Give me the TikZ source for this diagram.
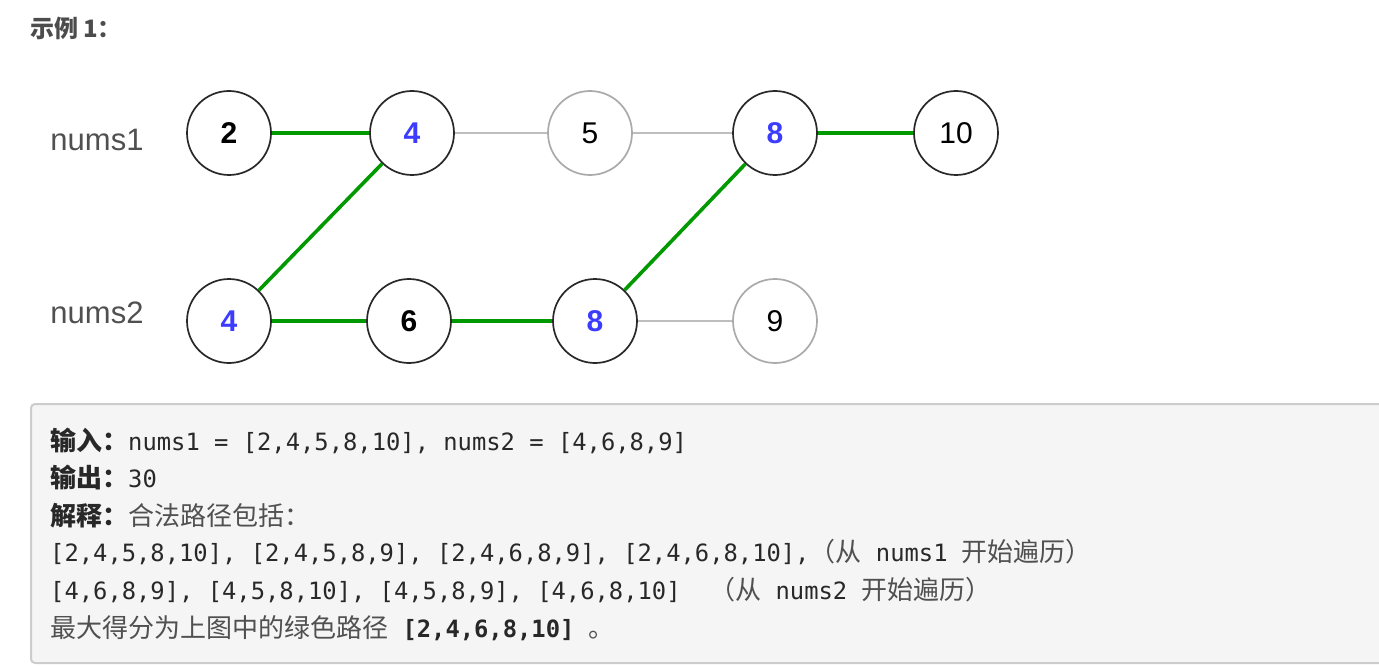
\documentclass[tikz,border=0pt]{standalone}
\usepackage{fontspec}
\setmainfont{Liberation Sans}
\newfontfamily\cjk{Noto Sans CJK SC}
\newfontfamily\mono{DejaVu Sans Mono}
\definecolor{pathgreen}{RGB}{0,153,0}
\definecolor{numblue}{RGB}{60,60,255}
\definecolor{lightline}{RGB}{190,190,190}
\definecolor{ringdark}{RGB}{40,40,40}
\definecolor{ringlight}{RGB}{170,170,170}
\definecolor{boxfill}{RGB}{245,245,245}
\definecolor{boxline}{RGB}{204,204,204}
\definecolor{txtdark}{RGB}{40,40,40}
\definecolor{txtmid}{RGB}{80,80,80}
\definecolor{titlecol}{RGB}{76,76,76}
\newcommand\zh[1]{{\fontsize{26}{30}\selectfont\cjk\color{txtmid}#1}}
\newcommand\zhb[1]{{\fontsize{26}{30}\selectfont\cjk\bfseries\color{txtdark}#1}}
\newcommand\mt[1]{{\fontsize{23.8}{30}\selectfont\mono\color{txtdark}#1}}
\newcommand\mtb[1]{{\fontsize{23.8}{30}\selectfont\mono\bfseries\color{txtdark}#1}}
\newcommand\msp{{\fontsize{23.8}{30}\selectfont\mono\ }}
\tikzset{
  num/.style={circle, draw=ringdark, fill=white, line width=1.7pt, minimum size=84pt, inner sep=0pt, font=\fontsize{30}{30}\selectfont},
  numlight/.style={num, draw=ringlight},
  hl/.style={font=\fontsize{30}{30}\selectfont\bfseries},
  hlblue/.style={hl, text=numblue},
  greenedge/.style={draw=pathgreen, line width=3.6pt},
  grayedge/.style={draw=lightline, line width=2pt},
  rowlabel/.style={font=\fontsize{31}{31}\selectfont, text=txtmid, anchor=center},
  txtline/.style={anchor=base west, inner sep=0pt}
}
\begin{document}
\begin{tikzpicture}[x=1pt,y=-1pt]
\useasboundingbox (0,0) rectangle (1379,666);
% title
\node[anchor=west, inner sep=0pt, text=titlecol, font=\fontsize{24}{24}\selectfont\cjk\bfseries] (title) at (30,28) {示例\hspace{5pt}1：};
% row labels
\node[rowlabel] (l1) at (97,140) {nums1};
\node[rowlabel] (l2) at (97,313) {nums2};
% nodes
\node[num, hl] (a2) at (229,133) {2};
\node[num, hlblue] (a4) at (412,133) {4};
\node[numlight] (a5) at (590,133) {5};
\node[num, hlblue] (a8) at (775,133) {8};
\node[num] (a10) at (956,133) {10};
\node[num, hlblue] (b4) at (229,321) {4};
\node[num, hl] (b6) at (409,321) {6};
\node[num, hlblue] (b8) at (595,321) {8};
\node[numlight] (b9) at (775,321) {9};
% edges
\draw[greenedge] (a2) -- (a4);
\draw[greenedge] (a4) -- (b4);
\draw[greenedge] (b4) -- (b6);
\draw[greenedge] (b6) -- (b8);
\draw[greenedge] (b8) -- (a8);
\draw[greenedge] (a8) -- (a10);
\draw[grayedge] (a4) -- (a5);
\draw[grayedge] (a5) -- (a8);
\draw[grayedge] (b8) -- (b9);
% box
\draw[draw=boxline, fill=boxfill, line width=2pt, rounded corners=4pt] (31,404) rectangle (1395,663);
% text lines
\node[txtline] (t1) at (50,450) {\zhb{输入：}\mt{nums1 = [2,4,5,8,10], nums2 = [4,6,8,9]}};
\node[txtline] (t2) at (50,487) {\zhb{输出：}\mt{30}};
\node[txtline] (t3) at (50,525) {\zhb{解释：}\zh{合法路径包括：}};
\node[txtline] (t4) at (50,561) {\mt{[2,4,5,8,10], [2,4,5,8,9], [2,4,6,8,9], [2,4,6,8,10],}\zh{（从}\msp\mt{nums1}\msp\zh{开始遍历）}};
\node[txtline] (t5) at (50,599) {\mt{[4,6,8,9], [4,5,8,10], [4,5,8,9], [4,6,8,10]}\msp\msp\zh{（从}\msp\mt{nums2}\msp\zh{开始遍历）}};
\node[txtline] (t6) at (50,637) {\zh{最大得分为上图中的绿色路径}\msp\mtb{[2,4,6,8,10]}\msp\zh{。}};
\end{tikzpicture}
\end{document}
